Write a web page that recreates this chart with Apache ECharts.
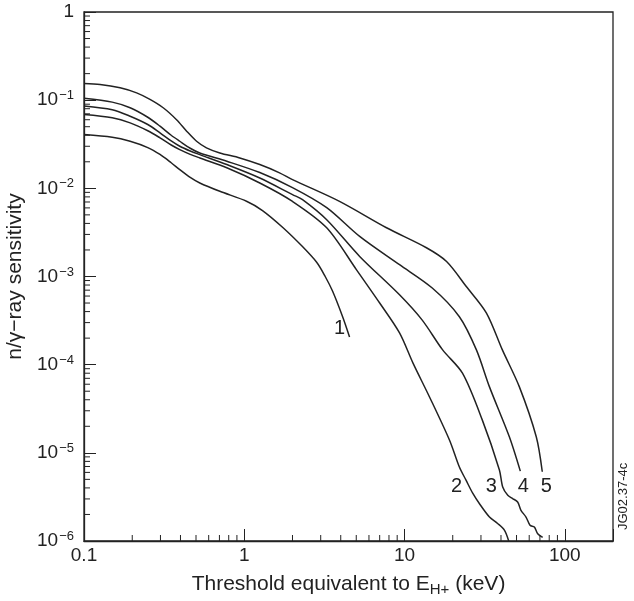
<!DOCTYPE html>
<html>
<head>
<meta charset="utf-8">
<script src="https://cdn.jsdelivr.net/npm/echarts@6/dist/echarts.min.js"></script>
<style>
  html, body { margin: 0; padding: 0; background: #fff; }
  #chart { width: 634px; height: 601px; }
</style>
</head>
<body>
<div id="chart"></div>
<script>
// [threshold keV, sensitivity]
const curve1 = [
  [0.1, 0.0408], [0.15, 0.038], [0.194, 0.0342], [0.25, 0.029], [0.298, 0.0242], [0.35, 0.0195],
  [0.396, 0.0163], [0.46, 0.0133], [0.528, 0.0115], [0.704, 0.00925], [1.04, 0.0071],
  [1.3, 0.0056], [1.74, 0.0036], [2.3, 0.0022], [2.83, 0.00145], [3.2, 0.00100],
  [3.56, 6.8e-4], [4.11, 3.5e-4], [4.54, 2.06e-4]
];
const curve2 = [
  [0.1, 0.0686], [0.15, 0.063], [0.194, 0.0553], [0.25, 0.045], [0.298, 0.0374], [0.35, 0.031],
  [0.396, 0.0275], [0.46, 0.0243], [0.528, 0.0221], [0.778, 0.0171], [1.25, 0.0115],
  [2.0, 0.00711], [3.27, 0.00357], [5.02, 0.00119], [7.0, 5.0e-4], [9.31, 2.29e-4],
  [11.3, 1.04e-4], [14.3, 4.33e-5], [19.1, 1.39e-5], [22.0, 6.9e-6], [24.2, 4.9e-6],
  [26.7, 3.46e-6], [29.3, 2.66e-6], [33.9, 1.87e-6], [38.1, 1.58e-6], [42.0, 1.33e-6],
  [44.7, 1.0e-6]
];
const curve3 = [
  [0.1, 0.086], [0.15, 0.078], [0.194, 0.0658], [0.25, 0.053], [0.298, 0.0426], [0.35, 0.0345],
  [0.396, 0.030], [0.46, 0.0265], [0.528, 0.0241], [0.778, 0.0186], [1.25, 0.0131],
  [2.0, 0.00848], [2.31, 0.00744], [3.27, 0.0044], [5.25, 0.00169], [9.31, 6.2e-4],
  [12.9, 3.2e-4], [17.3, 1.47e-4], [23.0, 8.0e-5], [30.6, 2.35e-5], [39.1, 6.4e-6],
  [41.0, 4.1e-6], [44.1, 3.3e-6], [47.3, 3.03e-6], [50.8, 2.77e-6], [53.3, 2.23e-6],
  [57.3, 1.87e-6], [60.7, 1.51e-6], [64.6, 1.44e-6], [67.8, 1.21e-6], [72.8, 1.1e-6]
];
const curve4 = [
  [0.1, 0.105], [0.15, 0.095], [0.194, 0.082], [0.25, 0.064], [0.298, 0.0507], [0.35, 0.040],
  [0.396, 0.0342], [0.46, 0.0285], [0.528, 0.0252], [0.778, 0.0203], [1.25, 0.0151],
  [2.0, 0.0102], [3.27, 0.00604], [5.25, 0.00285], [9.31, 0.00136], [14.9, 7.4e-4],
  [22.0, 3.5e-4], [28.1, 1.47e-4], [33.9, 5.6e-5], [45.1, 1.52e-5], [52.8, 6.2e-6]
];
const curve5 = [
  [0.1, 0.155], [0.126, 0.151], [0.168, 0.138], [0.213, 0.121], [0.258, 0.102], [0.312, 0.082],
  [0.378, 0.060], [0.437, 0.0445], [0.504, 0.0342], [0.581, 0.0288], [0.704, 0.0252],
  [0.938, 0.0221], [1.25, 0.0186], [1.66, 0.0150], [2.0, 0.01255], [3.93, 0.00711],
  [7.72, 0.00357], [13.7, 0.00212], [18.3, 0.00148], [24.3, 7.7e-4], [32.4, 3.87e-4],
  [40.8, 1.47e-4], [52.1, 5.6e-5], [66.4, 1.52e-5], [72.4, 6.1e-6]
];
const curveNames = ['1', '2', '3', '4', '5'];
const labelAnchors = [[3.93, 2.6e-4], [21.1, 4.1e-6], [34.8, 4.1e-6], [55.1, 4.1e-6], [76.7, 4.1e-6]];
const xTickLabels = { 0.1: '0.1', 1: '1', 10: '10', 100: '100' };

const INK = '#222';
const FONT = '"Liberation Sans", Arial, sans-serif';

// minor ticks 2..9 per decade, drawn inward like the original
const xMinor = [], yMinor = [];
for (let e = -1; e <= 2; e++) for (let k = 2; k <= 9; k++) if (k * Math.pow(10, e) < 200) xMinor.push([k * Math.pow(10, e), 1e-6]);
for (let e = -6; e <= -1; e++) for (let k = 2; k <= 9; k++) yMinor.push([0.1, k * Math.pow(10, e)]);

const chart = echarts.init(document.getElementById('chart'), null, { renderer: 'canvas' });

const curves = [curve1, curve2, curve3, curve4, curve5];
const series = curves.map((c, i) => ({
  type: 'line', name: curveNames[i], data: c, showSymbol: false, smooth: 0.3,
  lineStyle: { color: INK, width: 1.5 }, silent: true
}));

// curve numbers
series.push({
  type: 'custom', silent: true, z: 6,
  data: labelAnchors.map((p, i) => [p[0], p[1], i]),
  renderItem: (params, api) => {
    const p = api.coord([api.value(0), api.value(1)]);
    return {
      type: 'text', x: p[0], y: p[1],
      style: { text: curveNames[api.value(2)], fill: INK, fontSize: 20, fontFamily: FONT, align: 'center', verticalAlign: 'middle' }
    };
  }
});

const tickSeries = (data, horizontal) => ({
  type: 'custom', data, silent: true, clip: false, z: 5,
  renderItem: (params, api) => {
    const p = api.coord([api.value(0), api.value(1)]);
    return {
      type: 'line',
      shape: horizontal ? { x1: p[0], y1: p[1], x2: p[0] + 6, y2: p[1] }
                        : { x1: p[0], y1: p[1], x2: p[0], y2: p[1] - 6 },
      style: { stroke: INK, lineWidth: 1 }
    };
  }
});
series.push(tickSeries(xMinor, false), tickSeries(yMinor, true));

chart.setOption({
  animation: false,
  backgroundColor: '#fff',
  textStyle: { fontFamily: FONT },
  grid: {
    left: 84, right: 21, top: 12, bottom: 60, outerBoundsMode: 'none',
    show: true, borderColor: INK, borderWidth: 1.3
  },
  xAxis: {
    type: 'log', logBase: 10, min: 0.1, max: 200,
    axisLine: { lineStyle: { color: INK, width: 1.3 } },
    axisTick: { inside: true, length: 12, lineStyle: { color: INK } },
    splitLine: { show: false },
    axisLabel: {
      color: INK, fontSize: 19, fontFamily: FONT, margin: 5,
      formatter: v => xTickLabels[+v.toPrecision(3)] || ''
    },
    name: '{t|Threshold equivalent to E}{s|H+}{t| (keV)}',
    nameLocation: 'middle', nameGap: 31,
    nameTextStyle: {
      rich: {
        t: { fontSize: 21, color: INK, fontFamily: FONT },
        s: { fontSize: 15, color: INK, fontFamily: FONT, verticalAlign: 'bottom', padding: [10, 0, 0, 0] }
      }
    }
  },
  yAxis: {
    type: 'log', logBase: 10, min: 1e-6, max: 1,
    axisLine: { lineStyle: { color: INK, width: 1.3 } },
    axisTick: { inside: true, length: 12, lineStyle: { color: INK } },
    splitLine: { show: false },
    axisLabel: {
      color: INK, fontSize: 19, fontFamily: FONT, margin: 10,
      formatter: v => {
        const e = Math.round(Math.log10(v));
        return e === 0 ? '{b|1}' : '{b|10}{s|\u2212' + (-e) + '}';
      },
      rich: {
        b: { fontSize: 19, color: INK, fontFamily: FONT },
        s: { fontSize: 13, color: INK, fontFamily: FONT, verticalAlign: 'top', padding: [0, 0, 9, 1] }
      }
    },
    name: 'n/\u03b3\u2212ray sensitivity',
    nameLocation: 'middle', nameGap: 48, nameRotate: 90,
    nameTextStyle: { fontSize: 21, color: INK, fontFamily: FONT }
  },
  graphic: [{
    type: 'text', x: 630, y: 530, rotation: Math.PI / 2,
    style: { x: 0, y: 0, text: 'JG02.37-4c', fontSize: 13, fill: INK, fontFamily: FONT, align: 'left', verticalAlign: 'bottom' }
  }],
  series
});
</script>
</body>
</html>
